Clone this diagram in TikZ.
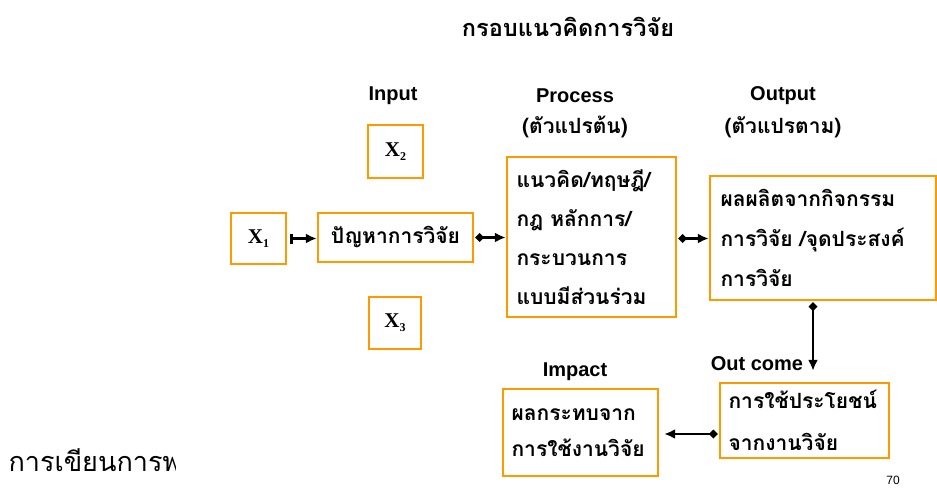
\documentclass[tikz,border=0pt]{standalone}
\usepackage{fontspec}
\setmainfont{Liberation Serif}
\setsansfont{Liberation Sans}
\newfontfamily\thai[Script=Thai]{Loma}
\usetikzlibrary{arrows.meta}
\definecolor{boxorange}{HTML}{FF9900}
\tikzset{
  box/.style={draw=boxorange, line width=2.4pt, rectangle, inner sep=0pt},
  thaitext/.style={font=\thai\bfseries\fontsize{21}{39}\selectfont, align=left},
  lbl/.style={font=\sffamily\bfseries\fontsize{20}{22}\selectfont},
  xlbl/.style={font=\rmfamily\bfseries\fontsize{21}{22}\selectfont},
  conn/.style={line width=2.6pt, {Diamond[length=9pt,width=9pt]}-{Latex[length=11pt,width=10pt]}},
}
\begin{document}
\begin{tikzpicture}[x=1pt,y=-1pt]
\useasboundingbox (0,0) rectangle (937,488);
% title
\node[font=\thai\bfseries\fontsize{23.5}{26}\selectfont] (title) at (568,27) {กรอบแนวคิดการวิจัย};
% headers
\node[lbl] (hin) at (393,96) {Input};
\node[lbl] (hproc) at (575,96) {Process};
\node[font=\thai\bfseries\fontsize{21}{24}\selectfont] (hproc2) at (575,127) {(ตัวแปรต้น)};
\node[lbl] (hout) at (783,96) {Output};
\node[font=\thai\bfseries\fontsize{21}{24}\selectfont] (hout2) at (783,127) {(ตัวแปรตาม)};
% X boxes
\node[box, minimum width=55pt, minimum height=53pt, xlbl] (x2) at (395.5,151.5) {X\raisebox{-0.45ex}{\fontsize{12}{12}\selectfont 2}};
\node[box, minimum width=55pt, minimum height=51pt, xlbl] (x1) at (258.5,238.5) {X\raisebox{-0.45ex}{\fontsize{12}{12}\selectfont 1}};
\node[box, minimum width=52pt, minimum height=52pt, xlbl] (x3) at (395,323) {X\raisebox{-0.45ex}{\fontsize{12}{12}\selectfont 3}};
% main boxes
\node[box, minimum width=155pt, minimum height=49pt, font=\thai\bfseries\fontsize{21}{24}\selectfont] (prob) at (395.5,237.5) {ปัญหาการวิจัย};
\node[box, minimum width=169pt, minimum height=160pt, thaitext, text width=150pt] (proc) at (591.5,237) {แนวคิด/ทฤษฎี/\\กฎ หลักการ/\\กระบวนการ\\แบบมีส่วนร่วม};
\node[box, minimum width=226pt, minimum height=124pt, thaitext, text width=205pt, font=\thai\bfseries\fontsize{21}{40}\selectfont] (outp) at (823,238) {ผลผลิตจากกิจกรรม\\การวิจัย /จุดประสงค์\\การวิจัย};
\node[box, minimum width=169pt, minimum height=75pt, thaitext, text width=152pt, font=\thai\bfseries\fontsize{21}{42}\selectfont] (outc) at (804.5,420.5) {การใช้ประโยชน์\\จากงานวิจัย};
\node[box, minimum width=155pt, minimum height=87pt, thaitext, text width=138pt, font=\thai\bfseries\fontsize{21}{36}\selectfont] (imp) at (580.5,432.5) {ผลกระทบจาก\\การใช้งานวิจัย};
% labels
\node[lbl] (loc) at (757,364) {Out come};
\node[lbl] (limp) at (575,372) {Impact};
\node[font=\sffamily\fontsize{12}{13}\selectfont] (pg) at (893,480) {70};
% connectors
\coordinate (a1) at ([xshift=3pt]x1.east);
\draw[line width=2.6pt, {Bar[width=10pt,line width=2.6pt]}-{Latex[length=11pt,width=10pt]}] (a1) -- (a1 -| prob.west);
\coordinate (a2) at ([xshift=1pt]prob.east);
\draw[conn] (a2) -- (a2 -| proc.west);
\coordinate (a3) at ([shift={(1pt,-1.5pt)}]proc.east);
\draw[conn] (a3) -- (a3 -| outp.west);
\coordinate (v1) at ([shift={(-10pt,-1pt)}]outp.south);
\coordinate (v2) at ([yshift=11pt]v1 |- outc.north);
\draw[conn] (v1) -- (v2);
\coordinate (h1) at ([shift={(-1pt,-13.5pt)}]outc.west);
\coordinate (h2) at ([xshift=5pt]h1 -| imp.east);
\draw[conn] (h1) -- (h2);
% bottom-left truncated text
\begin{scope}
\clip (0,430) rectangle (175,488);
\node[anchor=west, font=\thai\fontsize{27}{30}\selectfont] (foot) at (5,460) {การเขียนการพ};
\end{scope}
\end{tikzpicture}
\end{document}
